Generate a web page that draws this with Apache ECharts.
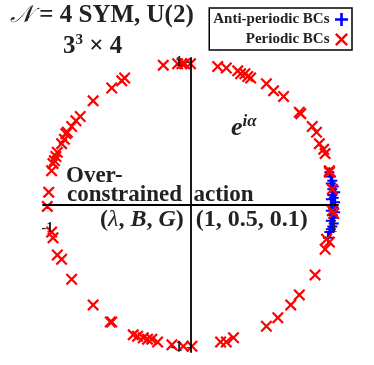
<!DOCTYPE html>
<html><head><meta charset="utf-8">
<script src="https://cdn.jsdelivr.net/npm/echarts@6/dist/echarts.min.js"></script>
<style>html,body{margin:0;padding:0;background:#fff}#c{width:374px;height:365px}</style>
</head><body><div id="c"></div>
<script>
const tickValues = [-1, 1];
const seriesNames = ['Anti-periodic BCs', 'Periodic BCs'];
const antiPeriodicPoints = [
  [0.97,0.23],[0.98,0.20],[0.99,0.17],[0.98,0.15],[1.00,0.13],[0.99,0.11],[1.01,0.09],[0.99,0.07],
  [1.00,0.05],[0.98,0.04],[1.01,0.02],[0.99,0.00],[1.00,-0.02],[0.98,-0.04],[1.01,-0.05],[0.99,-0.07],
  [1.00,-0.09],[0.98,-0.11],[1.00,-0.13],[0.99,-0.15],[0.98,-0.17],[0.97,-0.19],[0.96,-0.23]
];
const periodicPoints = [
  [-0.19,0.98],[-0.09,0.99],[-0.06,0.99],[-0.04,0.99],[0.00,0.99],[0.19,0.97],[0.25,0.96],[0.33,0.94],
  [0.35,0.92],[0.38,0.92],[0.40,0.90],[0.42,0.89],[0.53,0.85],[0.58,0.80],[0.65,0.76],[0.76,0.65],
  [0.77,0.64],[0.85,0.55],[0.88,0.51],[0.90,0.43],[0.93,0.39],[0.94,0.36],
  [0.97,0.24],[0.97,0.23],[0.99,0.11],[0.99,-0.04],[1.00,-0.06],[0.97,-0.26],[0.95,-0.24],[0.94,-0.31],
  [0.87,-0.49],[0.76,-0.63],[0.70,-0.70],[0.61,-0.79],[0.53,-0.85],[0.30,-0.93],[0.25,-0.96],[0.21,-0.96],
  [0.01,-0.99],[-0.05,-0.99],[-0.13,-0.98],[-0.23,-0.96],[-0.27,-0.94],[-0.30,-0.94],[-0.33,-0.93],
  [-0.37,-0.92],[-0.40,-0.91],[-0.55,-0.82],[-0.56,-0.82],[-0.68,-0.70],
  [-0.83,-0.52],[-0.90,-0.38],[-0.93,-0.35],[-0.96,-0.23],[-0.97,-0.19],[-1.00,-0.01],[-0.99,0.09],
  [-0.97,0.24],[-0.96,0.29],[-0.95,0.31],[-0.94,0.34],[-0.93,0.37],[-0.90,0.43],[-0.88,0.46],
  [-0.87,0.50],[-0.86,0.51],[-0.83,0.55],[-0.80,0.59],[-0.77,0.62],[-0.68,0.73],[-0.55,0.82],
  [-0.48,0.87],[-0.46,0.89]
];
const PLUS = 'path://M4,0H6V4H10V6H6V10H4V6H0V4H4Z';
const CROSS = 'path://M0,1.3L1.3,0L5,3.7L8.7,0L10,1.3L6.3,5L10,8.7L8.7,10L5,6.3L1.3,10L0,8.7L3.7,5Z';
const SERIF = '"Liberation Serif","DejaVu Serif",serif';

const chart = echarts.init(document.getElementById('c'), null, {renderer: 'canvas'});
const axisCommon = {
  type: 'value', min: -1.03, max: 1.03, z: 10,
  axisLine: {onZero: false, lineStyle: {color: '#000', width: 1.8}},
  splitLine: {show: false},
  axisTick: {show: true, customValues: tickValues, length: 4, inside: false, lineStyle: {color: '#333', width: 1}},
  axisLabel: {customValues: tickValues, showMinLabel: true, showMaxLabel: true, hideOverlap: false,
              color: '#222', fontFamily: SERIF, fontWeight: 'bold', fontSize: 14}
};
chart.setOption({
  animation: false,
  grid: {left: 43, right: 36, top: 58, bottom: 13, containLabel: false},
  xAxis: Object.assign({}, axisCommon, {offset: -147, axisLabel: Object.assign({}, axisCommon.axisLabel, {margin: 16})}),
  yAxis: Object.assign({}, axisCommon, {offset: -147.5, axisLabel: Object.assign({}, axisCommon.axisLabel, {margin: 8})}),
  legend: {
    orient: 'vertical', align: 'right', right: 22, top: 8,
    padding: [4, 4, 3, 4], itemGap: 5, itemWidth: 14, itemHeight: 13,
    borderColor: '#000', borderWidth: 1.5, borderRadius: 0,
    textStyle: {fontFamily: SERIF, fontWeight: 'bold', fontSize: 15, color: '#222', width: 116, align: 'right'},
    data: [
      {name: seriesNames[0], icon: PLUS, itemStyle: {color: '#0000ff'}},
      {name: seriesNames[1], icon: CROSS, itemStyle: {color: '#ff0000'}}
    ]
  },
  series: [
    {name: seriesNames[0], type: 'scatter', data: antiPeriodicPoints, symbol: PLUS, symbolSize: 10,
     itemStyle: {color: '#0000ff', opacity: 1}, z: 3},
    {name: seriesNames[1], type: 'scatter', data: periodicPoints, symbol: CROSS, symbolSize: 12,
     itemStyle: {color: '#ff0000', opacity: 1}, z: 4}
  ],
  graphic: [
    {type: 'text', left: 10, top: 3, style: {
      text: '{c|𝒩} = 4 SYM, U(2)', font: 'bold 25px ' + SERIF, fill: '#222',
      rich: {c: {fontFamily: SERIF, fontWeight: 'normal', fontStyle: 'italic', fontSize: 24, fill: '#222'}}}},
    {type: 'text', left: 63, top: 33, style: {
      text: '3{s|3} × 4', font: 'bold 25px ' + SERIF, fill: '#222',
      rich: {s: {fontFamily: SERIF, fontWeight: 'bold', fontSize: 15, padding: [0,0,12,0], fill: '#222'}}}},
    {type: 'text', left: 231, top: 113, style: {
      text: '{e|e}{s|iα}', fill: '#222',
      rich: {e: {fontFamily: SERIF, fontWeight: 'bold', fontStyle: 'italic', fontSize: 26, fill: '#222'},
             s: {fontFamily: SERIF, fontWeight: 'bold', fontStyle: 'italic', fontSize: 17, padding: [0,0,14,0], fill: '#222'}}}},
    {type: 'text', left: 66, top: 165, style: {text: 'Over-', font: 'bold 23px ' + SERIF, fill: '#222'}},
    {type: 'text', left: 67, top: 184, style: {text: 'constrained  action', font: 'bold 23px ' + SERIF, fill: '#222'}},
    {type: 'text', left: 100, top: 208, style: {
      text: '({l|λ}, {i|B}, {i|G})  (1, 0.5, 0.1)', font: 'bold 24px ' + SERIF, fill: '#222',
      rich: {l: {fontFamily: SERIF, fontStyle: 'italic', fontWeight: 'normal', fontSize: 24, fill: '#222'},
             i: {fontFamily: SERIF, fontStyle: 'italic', fontWeight: 'bold', fontSize: 24, fill: '#222'}}}}
  ]
});
</script></body></html>
